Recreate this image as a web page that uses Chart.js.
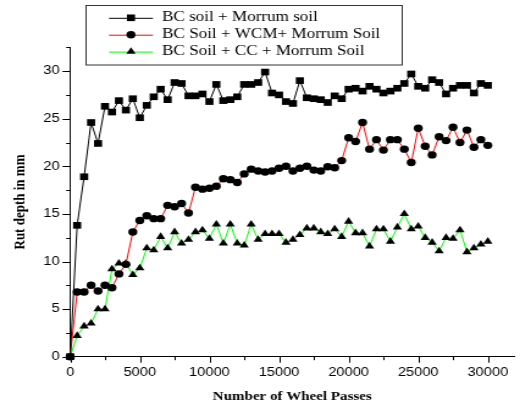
<!DOCTYPE html>
<html><head><meta charset="utf-8">
<script src="https://cdn.jsdelivr.net/npm/chart.js@4.4.1/dist/chart.umd.min.js"></script>
<style>
html,body{margin:0;padding:0;background:#fff;overflow:hidden;width:520px;height:406px;}
#wrap{position:absolute;left:0;top:0;width:426px;height:406px;transform:scaleX(1.2207);transform-origin:0 0;}
canvas{display:block;}
</style></head><body>
<div id="wrap"><canvas id="c" width="426" height="406"></canvas></div>
<script>
// ---- data ----
const passes = [0,500,1000,1500,2000,2500,3000,3500,4000,4500,5000,5500,6000,6500,7000,7500,8000,8500,9000,9500,
  10000,10500,11000,11500,12000,12500,13000,13500,14000,14500,15000,15500,16000,16500,17000,17500,18000,18500,19000,19500,
  20000,20500,21000,21500,22000,22500,23000,23500,24000,24500,25000,25500,26000,26500,27000,27500,28000,28500,29000,29500,30000];
const bcMorrum = [0,13.8,18.9,24.6,22.4,26.3,25.7,26.9,25.9,27.1,25.1,26.4,27.3,28.1,27.0,28.8,28.7,27.4,27.4,27.6,
  26.8,28.6,26.9,27.0,27.3,28.6,28.6,28.8,29.9,27.7,27.5,26.8,26.6,29.0,27.2,27.1,27.0,26.7,27.4,27.1,
  28.1,28.2,27.9,28.4,28.1,27.7,27.9,28.2,28.7,29.7,28.4,28.2,29.1,28.8,27.6,28.2,28.5,28.5,27.7,28.7,28.5];
const bcWcmMorrum = [0,6.8,6.8,7.5,6.9,7.5,7.25,8.7,9.7,13.1,14.3,14.8,14.5,14.5,15.9,15.75,16.1,15.1,17.8,17.6,
  17.7,17.9,18.7,18.6,18.3,19.2,19.7,19.5,19.4,19.5,19.8,20.0,19.5,19.8,20.0,19.6,19.5,19.95,19.85,20.6,
  23.0,22.6,24.6,21.8,22.8,21.7,22.8,22.8,21.8,20.4,24.0,22.1,21.2,23.1,22.7,24.1,22.5,23.8,22.0,22.8,22.2];
const bcCcMorrum = [0,2.2,3.2,3.5,5.0,5.0,9.2,9.8,9.8,8.6,9.3,11.4,11.2,12.6,11.4,13.1,11.9,12.3,13.1,13.3,
  12.4,13.9,11.9,13.9,11.9,11.7,13.9,12.3,12.9,12.9,12.9,12.0,12.3,12.8,13.5,13.5,13.1,12.9,13.4,12.6,
  14.2,13.0,13.0,11.6,13.4,13.4,12.1,13.6,15.0,13.4,13.7,12.5,12.0,11.1,12.5,12.4,13.3,11.0,11.4,11.8,12.1];
const seriesLabels = ['BC soil + Morrum soil','BC Soil + WCM+ Morrum Soil','BC Soil + CC + Morrum Soil'];
const xTickLabels = [0,5000,10000,15000,20000,25000,30000];
const yTickLabels = [0,5,10,15,20,25,30];
const xTitle = 'Number of Wheel Passes';
const yTitle = 'Rut depth in mm';

const pts = arr => passes.map((p,i)=>({x:p,y:arr[i]}));

// minor / major tick marks drawn through the scales
const tickMarks = {
  id:'tickMarks',
  afterDraw(chart){
    const {ctx, scales:{x, y}} = chart;
    ctx.save();
    ctx.strokeStyle = '#000'; ctx.lineWidth = 1;
    ctx.beginPath();
    for (let v = 0; v <= x.max; v += 2500) {
      const px = Math.round(x.getPixelForValue(v)) + 0.5;
      const len = (v % 5000 === 0) ? 6 : 3.5;
      ctx.moveTo(px, x.top); ctx.lineTo(px, x.top + len);
    }
    ctx.stroke();
    ctx.beginPath();
    for (let v = 0; v <= y.max + 0.001; v += 2.5) {
      const py = Math.round(y.getPixelForValue(v)) + 0.5;
      const len = (v % 5 === 0) ? 6.3 : 3.3;
      ctx.moveTo(y.right - len, py); ctx.lineTo(y.right, py);
    }
    ctx.stroke();
    ctx.restore();
  }
};

// boxed legend like the original
const boxLegend = {
  id:'boxLegend',
  afterDraw(chart){
    const ctx = chart.ctx;
    ctx.save();
    ctx.strokeStyle = '#333'; ctx.lineWidth = 1;
    ctx.strokeRect(70.5, 5.5, 259, 59.5);
    chart.data.datasets.forEach((ds, i) => {
      const yy = 17.8 + i * 16.9;
      ctx.strokeStyle = ds.borderColor; ctx.lineWidth = 1;
      ctx.beginPath(); ctx.moveTo(89.3, yy + 0.5); ctx.lineTo(125.3, yy + 0.5); ctx.stroke();
      ctx.fillStyle = '#000';
      if (Chart.helpers && Chart.helpers.drawPoint) {
        Chart.helpers.drawPoint(ctx, {pointStyle: ds.pointStyle, radius: ds.pointRadius, borderWidth: 0, rotation: 0}, 107.3, yy);
      }
      ctx.fillStyle = '#000';
      ctx.font = "14px 'Liberation Serif', 'Times New Roman', serif";
      ctx.textAlign = 'left'; ctx.textBaseline = 'middle';
      ctx.fillText(ds.label, 132.7, yy);
    });
    ctx.restore();
  }
};

new Chart(document.getElementById('c'), {
  type: 'line',
  data: {
    datasets: [
      {label: seriesLabels[0], data: pts(bcMorrum), borderColor: '#000000', backgroundColor: '#000000',
       pointStyle: 'rect', pointRadius: 4.7, pointBackgroundColor: '#000', pointBorderWidth: 0, borderWidth: 1, clip: false},
      {label: seriesLabels[1], data: pts(bcWcmMorrum), borderColor: '#ff0000', backgroundColor: '#000000',
       pointStyle: 'circle', pointRadius: 3.7, pointBackgroundColor: '#000', pointBorderWidth: 0, borderWidth: 1, clip: false},
      {label: seriesLabels[2], data: pts(bcCcMorrum), borderColor: '#00ff00', backgroundColor: '#000000',
       pointStyle: 'triangle', pointRadius: 4.4, pointBackgroundColor: '#000', pointBorderWidth: 0, borderWidth: 1, clip: false}
    ]
  },
  options: {
    responsive: false, animation: false,
    layout: {padding: {top: 47.3, right: 0, left: 0, bottom: 0}},
    plugins: {legend: {display: false}, tooltip: {enabled: false}},
    elements: {line: {tension: 0}},
    scales: {
      x: {
        type: 'linear', min: 0, max: 31900,
        grid: {display: false, drawTicks: false},
        border: {display: true, color: '#000', width: 1},
        afterBuildTicks: s => { s.ticks = xTickLabels.map(v => ({value: v})); },
        ticks: {autoSkip: false, padding: 8.7, color: '#000', maxRotation: 0,
          font: {family: "'Liberation Sans', Arial, sans-serif", size: 12},
          callback: v => String(v)},
        title: {display: true, text: xTitle, color: '#000', padding: {top: 0, bottom: 1.5},
          font: {family: "'Liberation Serif', 'Times New Roman', serif", size: 12.3, weight: 'bold'}},
        afterFit: s => { s.height = 49.3; s.paddingLeft = 0; s.paddingRight = 0; }
      },
      y: {
        type: 'linear', min: 0, max: 32.5,
        grid: {display: false, drawTicks: false},
        border: {display: true, color: '#000', width: 1},
        afterBuildTicks: s => { s.ticks = yTickLabels.map(v => ({value: v})); },
        ticks: {autoSkip: false, padding: 8.7, color: '#000',
          font: {family: "'Liberation Sans', Arial, sans-serif", size: 12},
          callback: v => String(v)},
        title: {display: true, text: yTitle, color: '#000', padding: {top: 8.5, bottom: 0},
          font: {family: "'Liberation Serif', 'Times New Roman', serif", size: 13, weight: 'bold'}},
        afterFit: s => { s.width = 57.5; s.paddingTop = 0; s.paddingBottom = 0; }
      }
    }
  },
  plugins: [tickMarks, boxLegend]
});
</script></body></html>
